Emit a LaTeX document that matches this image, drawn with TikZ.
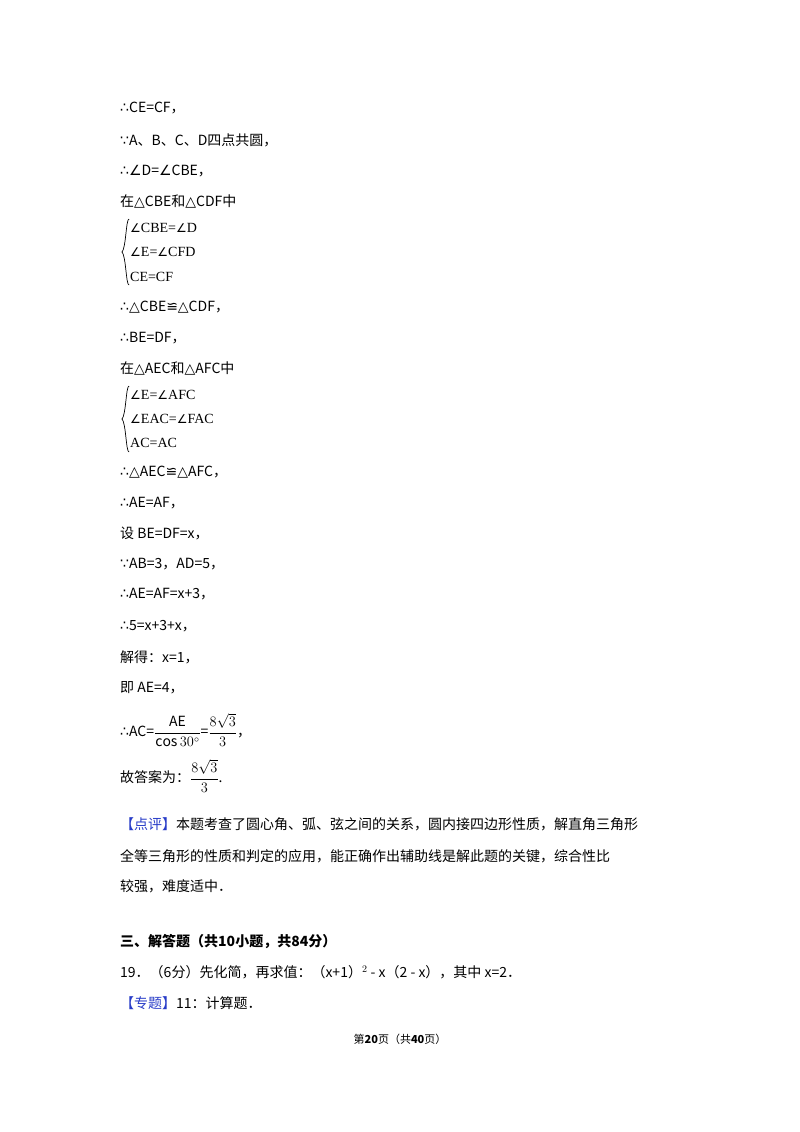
\documentclass[tikz,border=0pt]{standalone}
\usepackage{fontspec}
\setmainfont{Noto Sans CJK SC}
\newfontfamily\ser{Liberation Serif}
\newfontfamily\djf{DejaVu Sans}
\definecolor{blu}{RGB}{40,60,200}
\begin{document}
\begin{tikzpicture}[x=1pt,y=-1pt,
  t/.style={anchor=west,inner sep=0,font=\fontsize{14}{16}\selectfont},
  s/.style={anchor=west,inner sep=0,font=\ser\fontsize{14}{16}\selectfont},
  brc/.style={line width=0.7pt}]
\useasboundingbox[fill=white] (0,0) rectangle (800,1132);
\node[t] (l1) at (120,108) {{\djf∴}CE=CF，};
\node[t] (l2) at (120,140) {{\djf∵}A、B、C、D四点共圆，};
\node[t] (l3) at (120,171) {{\djf∴∠}D={\djf∠}CBE，};
\node[t] (l4) at (120,201) {在{\djf△}CBE和{\djf△}CDF中};
\coordinate (b1) at (126,252);
\draw[brc] ([xshift=3pt,yshift=-33pt]b1) .. controls ([yshift=-33pt]b1) and ([yshift=-4pt]b1) .. ([xshift=-4pt]b1) .. controls ([yshift=4pt]b1) and ([yshift=33pt]b1) .. ([xshift=3pt,yshift=33pt]b1);
\node[s] (s1) at (130,228) {{\djf\fontsize{12}{14}\selectfont∠}CBE={\djf\fontsize{12}{14}\selectfont∠}D};
\node[s] (s2) at (130,252) {{\djf\fontsize{12}{14}\selectfont∠}E={\djf\fontsize{12}{14}\selectfont∠}CFD};
\node[s] (s3) at (130,277) {CE=CF};
\node[t] (l5) at (120,307) {{\djf∴△}CBE{\djf≌△}CDF，};
\node[t] (l6) at (120,338) {{\djf∴}BE=DF，};
\node[t] (l7) at (120,368) {在{\djf△}AEC和{\djf△}AFC中};
\coordinate (b2) at (126,419);
\draw[brc] ([xshift=3pt,yshift=-33pt]b2) .. controls ([yshift=-33pt]b2) and ([yshift=-4pt]b2) .. ([xshift=-4pt]b2) .. controls ([yshift=4pt]b2) and ([yshift=33pt]b2) .. ([xshift=3pt,yshift=33pt]b2);
\node[s] (s4) at (130,395) {{\djf\fontsize{12}{14}\selectfont∠}E={\djf\fontsize{12}{14}\selectfont∠}AFC};
\node[s] (s5) at (130,419) {{\djf\fontsize{12}{14}\selectfont∠}EAC={\djf\fontsize{12}{14}\selectfont∠}FAC};
\node[s] (s6) at (130,443) {AC=AC};
\node[t] (l8) at (120,472) {{\djf∴△}AEC{\djf≌△}AFC，};
\node[t] (l9) at (120,503) {{\djf∴}AE=AF，};
\node[t] (l10) at (120,533) {设 BE=DF=x，};
\node[t] (l11) at (120,564) {{\djf∵}AB=3，AD=5，};
\node[t] (l12) at (120,594) {{\djf∴}AE=AF=x+3，};
\node[t] (l13) at (120,626) {{\djf∴}5=x+3+x，};
\node[t] (l14) at (120,657) {解得：x=1，};
\node[t] (l15) at (120,688) {即 AE=4，};
\node[t] (l16) at (120,730) {{\djf∴}AC=$\displaystyle\frac{\mathrm{AE}}{\cos 30^\circ}$=$\displaystyle\frac{8\sqrt{3}}{3}$，};
\node[t] (l17) at (120,776) {故答案为：$\displaystyle\frac{8\sqrt{3}}{3}$.};
\node[t] (l18) at (120,824) {\textcolor{blu}{【点评】}本题考查了圆心角、弧、弦之间的关系，圆内接四边形性质，解直角三角形};
\node[t] (l19) at (120,856) {全等三角形的性质和判定的应用，能正确作出辅助线是解此题的关键，综合性比};
\node[t] (l20) at (120,886) {较强，难度适中．};
\node[t,font=\bfseries\fontsize{14}{16}\selectfont] (h) at (120,942) {三、解答题（共10小题，共84分）};
\node[t] (l21) at (120,972) {19．（6分）先化简，再求值：（x+1）$^{2}$ - x（2 - x），其中 x=2．};
\node[t] (l22) at (120,1003) {\textcolor{blu}{【专题】}11：计算题．};
\node[inner sep=0,font=\fontsize{11}{12}\selectfont] (f) at (400,1039) {第\textbf{20}页（共\textbf{40}页）};
\end{tikzpicture}
\end{document}
